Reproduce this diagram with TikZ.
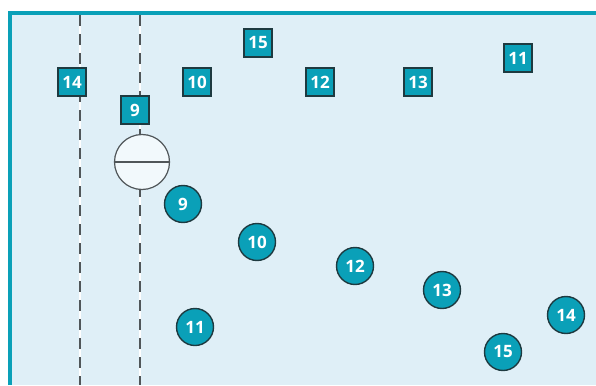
\documentclass[tikz,border=0pt]{standalone}
\usepackage{fontspec}
\setmainfont{Open Sans}
\definecolor{teal}{HTML}{0AA0B8}
\definecolor{bgblue}{HTML}{DFEFF7}
\definecolor{edge}{HTML}{1E3A40}
\definecolor{dashgray}{HTML}{505659}
\definecolor{ballfill}{HTML}{F2F9FC}
\begin{document}
\begin{tikzpicture}[x=1pt,y=-1pt,
  numbox/.style={draw=edge,line width=1.4pt,fill=teal,text=white,minimum size=28pt,inner sep=0pt,font=\bfseries\fontsize{17}{17}\selectfont},
  numdisc/.style={circle,draw=edge,line width=1.4pt,fill=teal,text=white,minimum size=37pt,inner sep=0pt,font=\bfseries\fontsize{17}{17}\selectfont},
  guide/.style={dashgray,line width=2.5pt,dash pattern=on 11pt off 8pt}]
\useasboundingbox (0,0) rectangle (596,385);
\fill[white] (0,0) rectangle (596,385);
\fill[bgblue] (10,13) rectangle (596,385);
\draw[teal,line width=4pt] (10,385) -- (10,13) -- (596,13);
% guide lines
\coordinate (gAtop) at (80,15);
\coordinate (gAbot) at (80,385);
\coordinate (gBtop) at (140,15);
\coordinate (gBbot) at (140,385);
\draw[white,line width=2.8pt] (gAtop) -- (gAbot);
\draw[white,line width=2.8pt] (gBtop) -- (gBbot);
\draw[guide] (gAtop) -- (gAbot);
\draw[guide] (gBtop) -- (gBbot);
% ball
\node[circle,draw=dashgray,line width=1.2pt,fill=ballfill,minimum size=55pt,inner sep=0pt] (ball) at (142,162) {};
\draw[dashgray,line width=1.5pt] (ball.west) -- (ball.east);
% squares
\node[numbox] (s14) at (72,82) {14};
\node[numbox] (s10) at (197,82) {10};
\node[numbox] (s15) at (258,43) {15};
\node[numbox] (s9) at (135,110) {9};
\node[numbox] (s12) at (320,82) {12};
\node[numbox] (s13) at (418,82) {13};
\node[numbox] (s11) at (518,58) {11};
% discs
\node[numdisc] (c9) at (183,204) {9};
\node[numdisc] (c10) at (257,242) {10};
\node[numdisc] (c11) at (195,327) {11};
\node[numdisc] (c12) at (355,266) {12};
\node[numdisc] (c13) at (442,290) {13};
\node[numdisc] (c14) at (566,315) {14};
\node[numdisc] (c15) at (503,352) {15};
\end{tikzpicture}
\end{document}
